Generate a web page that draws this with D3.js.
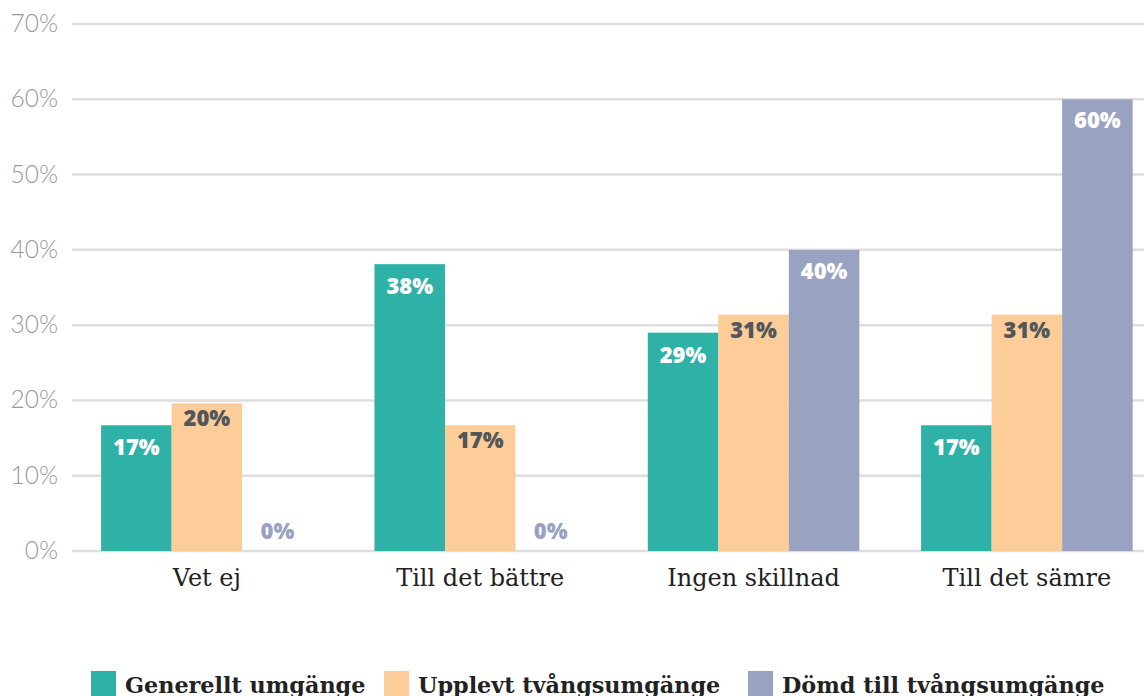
<!doctype html>
<html>
<head>
<meta charset="utf-8">
<title>Umgänge</title>
<script src="https://cdnjs.cloudflare.com/ajax/libs/d3/7.8.5/d3.min.js"></script>
<style>
  body { margin: 0; background: #fff; }
  svg { display: block; }
</style>
</head>
<body>
<div id="chart"></div>
<script>
// data
const categories = ["Vet ej", "Till det bättre", "Ingen skillnad", "Till det sämre"];
const seriesNames = ["Generellt umgänge", "Upplevt tvångsumgänge", "Dömd till tvångsumgänge"];
const generellt = [16.7, 38.1, 29.0, 16.7];
const upplevt   = [19.6, 16.7, 31.4, 31.4];
const domd      = [0, 0, 40.0, 60.0];
const yTicks = [0, 10, 20, 30, 40, 50, 60, 70];

const colors = ["#2eb1a7", "#fccc99", "#99a2c0"];
const labelColors = ["#ffffff", "#505659", "#ffffff"];
const labelOffset = [30, 23, 29];

const W = 1144, H = 696;
const svg = d3.select("#chart").append("svg").attr("width", W).attr("height", H);

const y = d3.scaleLinear().domain([0, 70]).range([551, 24]);
const x0 = d3.scaleBand().domain(categories).range([72, 1144])
  .paddingInner(0.226).paddingOuter(0.074).align(0.72);
const x1 = d3.scaleBand().domain(seriesNames).range([0, x0.bandwidth()]);

// gridlines
svg.append("g").selectAll("line").data(yTicks).join("line")
  .attr("x1", 72).attr("x2", W)
  .attr("y1", d => y(d)).attr("y2", d => y(d))
  .attr("stroke", "#dedede").attr("stroke-width", 2.5);

// y tick labels
svg.append("g").selectAll("text").data(yTicks).join("text")
  .attr("x", 58).attr("y", d => y(d) + 8)
  .attr("text-anchor", "end")
  .attr("font-family", "Lato, 'Open Sans', sans-serif")
  .attr("font-weight", 300)
  .attr("font-size", 24.5)
  .attr("fill", "#999")
  .text(d => d + "%");

const rows = categories.map((c, i) => ({
  cat: c,
  vals: [generellt[i], upplevt[i], domd[i]]
}));

const groups = svg.append("g").selectAll("g").data(rows).join("g")
  .attr("transform", d => `translate(${x0(d.cat)},0)`);

groups.selectAll("rect").data(d => d.vals.map((v, k) => ({ v, k }))).join("rect")
  .attr("x", d => x1(seriesNames[d.k]))
  .attr("width", x1.bandwidth())
  .attr("y", d => y(d.v))
  .attr("height", d => y(0) - y(d.v))
  .attr("fill", d => colors[d.k]);

groups.selectAll("text").data(d => d.vals.map((v, k) => ({ v, k }))).join("text")
  .attr("x", d => x1(seriesNames[d.k]) + x1.bandwidth() / 2)
  .attr("y", d => d.v === 0 ? y(0) - 12 : y(d.v) + labelOffset[d.k])
  .attr("text-anchor", "middle")
  .attr("font-family", "'Open Sans', 'Noto Sans', sans-serif")
  .attr("font-weight", 800)
  .attr("font-size", 22)
  .attr("fill", d => d.v === 0 ? colors[d.k] : labelColors[d.k])
  .text(d => Math.round(d.v) + "%");

// category labels
svg.append("g").selectAll("text").data(categories).join("text")
  .attr("x", d => x0(d) + x0.bandwidth() / 2)
  .attr("y", 586)
  .attr("text-anchor", "middle")
  .attr("font-family", "'DejaVu Serif', serif")
  .attr("font-size", 24)
  .attr("fill", "#222")
  .text(d => d);

// legend
const legendX = [91, 384, 748];
const legend = svg.append("g").selectAll("g").data(seriesNames).join("g")
  .attr("transform", (d, i) => `translate(${legendX[i]},671)`);
legend.append("rect").attr("width", 25).attr("height", 26)
  .attr("fill", (d, i) => colors[i]);
legend.append("text")
  .attr("x", 34).attr("y", 22)
  .attr("font-family", "'DejaVu Serif', serif")
  .attr("font-weight", 700)
  .attr("font-size", 22.3)
  .attr("fill", "#222")
  .text(d => d);
</script>
</body>
</html>
